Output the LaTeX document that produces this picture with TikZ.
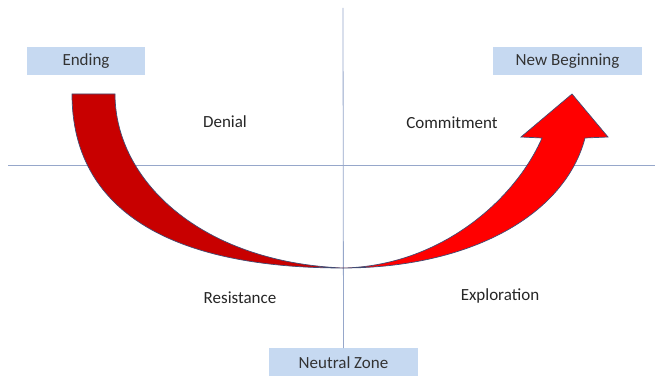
\documentclass[tikz,border=0pt]{standalone}
\usepackage{fontspec}
\setmainfont{Carlito}
\usetikzlibrary{positioning}
\definecolor{boxblue}{RGB}{198,217,241}
\definecolor{axisgray}{RGB}{150,167,202}
\definecolor{darkred}{RGB}{200,0,0}
\definecolor{edgeblue}{RGB}{65,75,115}

\begin{document}
\begin{tikzpicture}[x=1pt, y=-1pt, font=\fontsize{17}{20}\selectfont, phase/.style={fill=boxblue, text=black!80, minimum height=28pt, inner sep=0pt}, stage/.style={text=black!85}, axis/.style={draw=axisgray, line width=0.8pt}, curve/.style={draw=edgeblue, line width=0.7pt}]
\useasboundingbox[fill=white] (0,0) rectangle (660,377);
% quadrant axes
\coordinate (west) at (8,165);
\coordinate (east) at (655,165);
\coordinate (top) at (343,8);
\coordinate (low) at (343,268);
\node[phase, minimum width=149pt, anchor=north] (neutral) at (343.5,348) {Neutral Zone};
\draw[axis] (west) -- (east);
\draw[axis] (top) -- (neutral.north);
% falling band and rising arrow
\path[curve, fill=darkred] (72,94) -- (115,94) .. controls (115,180) and (200,262) .. (low) .. controls (170,268) and (72,210) .. (72,94) -- cycle;
\path[curve, fill=red] (low) .. controls (440,266) and (515,200) .. (542,138) -- (521,137) -- (572,94) -- (608,137) -- (585,138) .. controls (565,215) and (470,268) .. (low) -- cycle;
\node[phase, minimum width=118pt] (ending) at (86,61) {Ending};
\node[phase, minimum width=149pt] (begin) at (567.5,61) {New Beginning};
\node[stage] (denial) at (225,122) {Denial};
\node[stage] (commit) at (452,123) {Commitment};
\node[stage] (resist) at (240,298) {Resistance};
\node[stage] (explore) at (500,296) {Exploration};
\end{tikzpicture}
\end{document}
